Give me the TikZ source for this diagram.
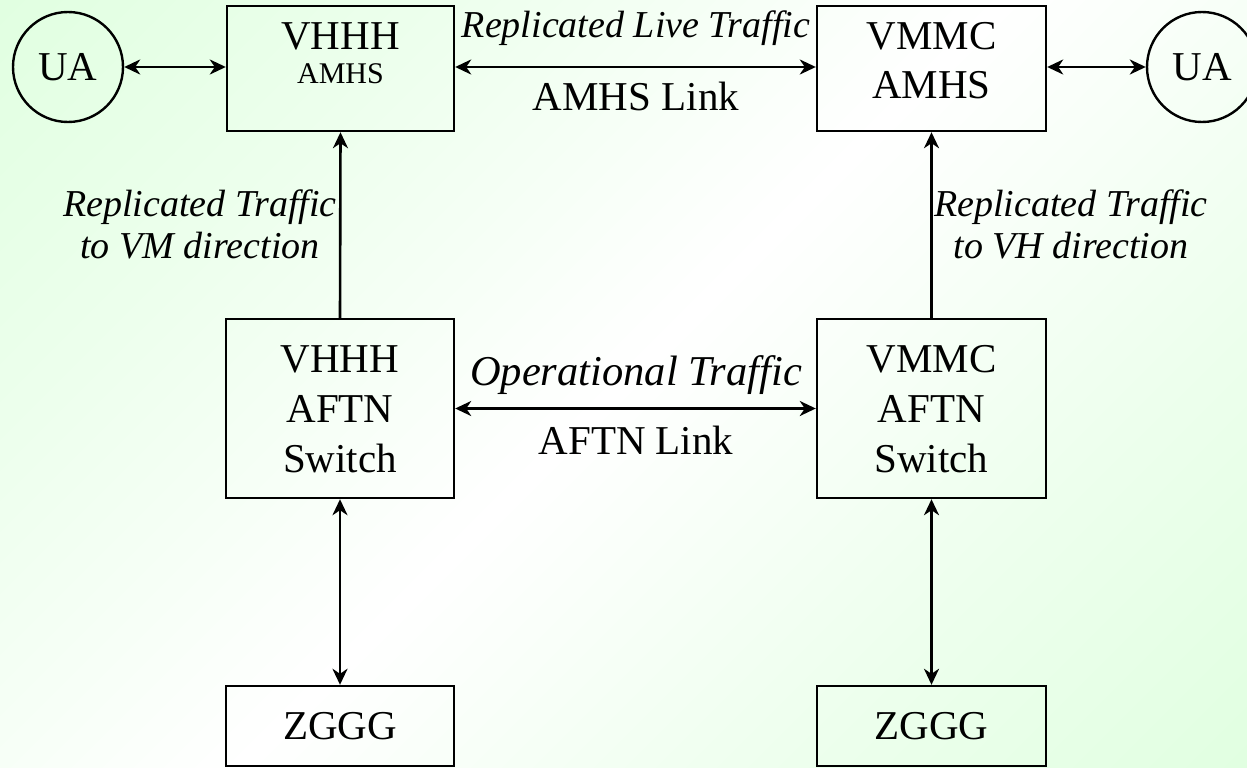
\documentclass[tikz,border=0pt]{standalone}
\usepackage{fontspec}
\setmainfont{Liberation Serif}
\usetikzlibrary{arrows.meta}
\definecolor{bggreen}{RGB}{214,255,214}
\pgfdeclarehorizontalshading{bgshade}{100bp}{color(0bp)=(bggreen); color(30bp)=(bggreen!45!white); color(50bp)=(white); color(70bp)=(bggreen!45!white); color(100bp)=(bggreen)}
\tikzset{
  boxnode/.style={draw, line width=2.4pt, minimum width=#1, inner sep=0pt},
  ua/.style={draw, circle, line width=2.4pt, minimum size=110pt, inner sep=0pt, font=\fontsize{41}{50}\selectfont},
  big/.style={font=\fontsize{41}{50}\selectfont, inner sep=0pt},
  small/.style={font=\fontsize{30}{34}\selectfont, inner sep=0pt},
  lab/.style={font=\fontsize{38}{42}\selectfont\itshape, inner sep=0pt, align=center},
  link/.style={line width=2.6pt, {Stealth[length=16pt,width=15pt,inset=5pt]}-{Stealth[length=16pt,width=15pt,inset=5pt]}},
  uplink/.style={line width=2.6pt, -{Stealth[length=16pt,width=15pt,inset=5pt]}}
}
\begin{document}
\begin{tikzpicture}[x=1pt,y=-1pt]
\useasboundingbox (0,0) rectangle (1247,768);
\shade[shading=bgshade, shading angle=-45] (0,0) rectangle (1247,768);
% nodes
\node[ua] (UAL) at (68,67) {UA};
\node[ua] (UAR) at (1202,67) {UA};
\node[boxnode=227pt, minimum height=125pt] (amhsL) at (340.5,68.5) {};
\node[boxnode=229pt, minimum height=125pt] (amhsR) at (931.5,68.5) {};
\node[big, anchor=base] (tAL1) at (340.5,49) {VHHH};
\node[small, anchor=base] (tAL2) at (340.5,84) {AMHS};
\node[big, anchor=base] (tAR1) at (931.5,49) {VMMC};
\node[big, anchor=base] (tAR2) at (931.5,98) {AMHS};
\node[boxnode=228pt, minimum height=179pt] (aftnL) at (340,408.5) {};
\node[boxnode=229pt, minimum height=179pt] (aftnR) at (931.5,408.5) {};
\node[big, anchor=base] (tFL1) at (340,372) {VHHH};
\node[big, anchor=base] (tFL2) at (340,422) {AFTN};
\node[big, anchor=base] (tFL3) at (340,472) {Switch};
\node[big, anchor=base] (tFR1) at (931.5,372) {VMMC};
\node[big, anchor=base] (tFR2) at (931.5,422) {AFTN};
\node[big, anchor=base] (tFR3) at (931.5,472) {Switch};
\node[boxnode=228pt, minimum height=80pt, big] (zL) at (340,726) {ZGGG};
\node[boxnode=229pt, minimum height=80pt, big] (zR) at (931.5,726) {ZGGG};
% labels
\node[lab] (l1) at (636,28) {Replicated Live Traffic};
\node[big] (l2) at (636,96) {AMHS Link};
\node[lab, font=\fontsize{42.5}{46}\selectfont\itshape] (l3) at (636,375) {Operational Traffic};
\node[big] (l4) at (636,440) {AFTN Link};
\node[lab] (l5) at (200,224) {Replicated Traffic\\to VM direction};
\node[lab] (l6) at (1071,224) {Replicated Traffic\\to VH direction};
% connectors
\draw[link] (UAL.east) -- (amhsL.west |- UAL.east);
\draw[link] (amhsL.east |- UAL.east) -- (amhsR.west |- UAL.east);
\draw[link] (amhsR.east |- UAR.west) -- (UAR.west);
\draw[link] (aftnL.east) -- (aftnR.west);
\draw[uplink] (aftnL.north) -- (amhsL.south);
\draw[uplink] (aftnR.north) -- (amhsR.south);
\draw[link] (aftnL.south) -- (zL.north);
\draw[link] (aftnR.south) -- (zR.north);
\end{tikzpicture}
\end{document}
